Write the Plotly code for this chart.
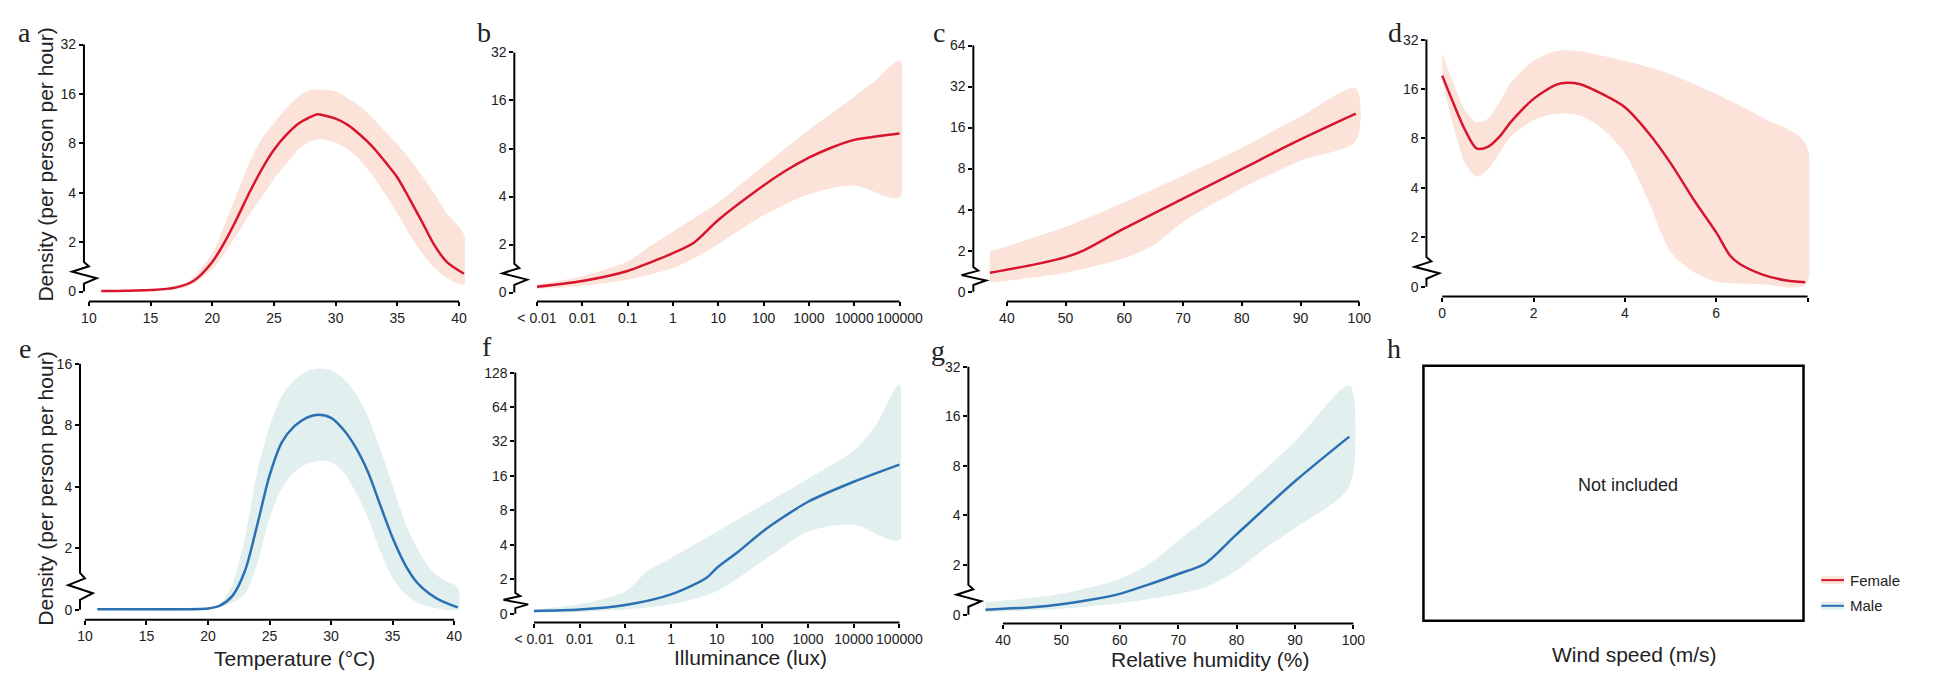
import numpy as np
import plotly.graph_objects as go

W, H = 1940, 673

# ---------------- data (density, per person per hour) ----------------
# a: Female - Temperature
a_fit_x = [11, 13, 15, 17, 18.5, 20, 21, 22, 23, 24, 25, 26, 27, 28, 28.5, 29, 30, 31, 32, 33, 34, 35, 36, 37, 38, 39, 40.4]
a_fit_y = [0.02, 0.03, 0.06, 0.16, 0.44, 1.2, 2.0, 2.79, 4.0, 5.54, 7.31, 9.0, 10.56, 11.63, 12.04, 11.88, 11.31, 10.34, 9.0, 7.62, 6.19, 4.96, 3.66, 2.66, 1.88, 1.2, 0.72]
a_up_x = [11, 15, 18, 20, 21, 22, 23, 24, 25, 26, 27, 28, 29, 30, 31, 32, 33, 34, 35, 36, 37, 38, 39, 40.4]
a_up_y = [0.04, 0.1, 0.4, 1.56, 2.55, 3.94, 6.1, 8.46, 10.63, 13.09, 15.45, 16.9, 17.0, 16.6, 15.03, 13.45, 11.39, 9.51, 7.89, 6.41, 5.1, 3.94, 2.99, 2.22]
a_lo_x = [11, 15, 18, 20, 21, 22, 23, 24, 25, 26, 27, 28, 29, 30, 31, 32, 33, 34, 35, 36, 37, 38, 39, 40.4]
a_lo_y = [0.0, 0.02, 0.2, 0.9, 1.56, 2.22, 2.93, 3.76, 4.86, 5.98, 7.36, 8.28, 8.46, 8.06, 7.36, 6.28, 5.1, 3.94, 2.99, 2.22, 1.56, 0.96, 0.56, 0.3]

# b: Female - Illuminance (lux; 0.001 stands for "< 0.01")
b_fit_x = [0.001, 0.01, 0.1, 0.3, 1, 3, 10, 100, 300, 1000, 3000, 10000, 30000, 100000]
b_fit_y = [0.24, 0.48, 0.9, 1.24, 1.64, 2.07, 2.85, 4.69, 5.78, 7.01, 8.06, 9.06, 9.5, 9.92]
b_up_x = [0.001, 0.01, 0.1, 0.3, 1, 10, 100, 1000, 10000, 30000, 100000]
b_up_y = [0.34, 0.68, 1.3, 1.92, 2.41, 3.68, 6.23, 10.48, 16.91, 21.4, 28.4]
b_lo_x = [0.001, 0.01, 0.1, 1, 3, 10, 100, 1000, 10000, 100000]
b_lo_y = [0.14, 0.28, 0.54, 1.02, 1.44, 2.01, 3.05, 4.14, 4.69, 3.97]

# c: Female - Relative humidity
c_fit_x = [37.1, 45, 50, 53, 60, 70, 80, 90, 99.4]
c_fit_y = [0.92, 1.34, 1.68, 2.0, 2.91, 4.82, 7.94, 13.09, 20.25]
c_up_x = [37.1, 50, 60, 70, 80, 90, 99.4]
c_up_y = [1.96, 2.99, 4.53, 7.11, 11.39, 19.3, 31.1]
c_lo_x = [37.1, 50, 60, 65, 70, 80, 90, 99.4]
c_lo_y = [0.44, 0.92, 1.64, 2.2, 3.25, 5.74, 9.13, 12.73]

# d: Female - Wind speed
d_fit_x = [0, 0.25, 0.5, 0.75, 1.0, 1.25, 1.5, 2.0, 2.5, 2.75, 3.0, 3.5, 4.0, 4.5, 5.0, 5.5, 6.0, 6.3, 6.5, 7.0, 7.5, 7.95]
d_fit_y = [19.3, 13.0, 9.0, 6.96, 7.11, 8.17, 10.06, 13.93, 17.03, 17.5, 17.15, 14.93, 12.38, 8.75, 5.66, 3.41, 2.14, 1.26, 0.94, 0.5, 0.26, 0.18]
d_up_x = [0, 0.25, 0.5, 0.75, 1.0, 1.25, 1.5, 2.0, 2.5, 3.0, 3.5, 4.0, 5.0, 6.0, 7.0, 7.95]
d_up_y = [26.5, 17.15, 11.88, 10.06, 10.56, 13.27, 17.5, 23.75, 27.3, 27.3, 25.5, 23.75, 19.7, 14.93, 10.78, 7.46]
d_lo_x = [0, 0.25, 0.5, 0.75, 1.0, 1.25, 1.5, 2.0, 2.5, 3.0, 3.5, 4.0, 4.5, 5.0, 5.5, 6.0, 7.0, 7.95]
d_lo_y = [18.0, 9.38, 5.66, 4.69, 5.17, 6.5, 8.17, 10.34, 11.31, 11.08, 9.19, 6.5, 3.41, 1.4, 0.6, 0.2, 0.1, 0.1]

# e: Male - Temperature
e_fit_x = [11, 15, 20, 21, 22, 23, 24, 25, 26, 27, 28, 29, 30, 31, 32, 33, 34, 35, 36, 37, 38, 39, 40.3]
e_fit_y = [0.02, 0.02, 0.04, 0.14, 0.46, 1.26, 2.6, 4.53, 6.59, 7.89, 8.69, 9.0, 8.69, 7.62, 6.23, 4.72, 3.25, 2.25, 1.48, 0.88, 0.52, 0.28, 0.08]
e_up_x = [11, 20, 21, 22, 23, 24, 25, 26, 27, 28, 29, 30, 31, 32, 33, 34, 35, 36, 37, 38, 39, 40.3]
e_up_y = [0.02, 0.08, 0.2, 0.84, 2.25, 4.72, 7.89, 11.08, 13.27, 14.62, 15.14, 14.82, 13.55, 11.47, 8.82, 6.1, 4.06, 2.69, 2.0, 1.36, 1.0, 0.72]
e_lo_x = [11, 20, 22, 23, 24, 25, 26, 27, 28, 29, 30, 31, 32, 33, 34, 35, 36, 37, 38, 40.3]
e_lo_y = [0.0, 0.01, 0.24, 0.52, 1.48, 2.81, 3.92, 4.72, 5.17, 5.35, 5.28, 4.72, 3.76, 2.81, 1.9, 1.04, 0.52, 0.24, 0.1, 0.02]

# f: Male - Illuminance
f_fit_x = [0.001, 0.01, 0.1, 1, 6, 10, 30, 100, 300, 1000, 10000, 100000]
f_fit_y = [0.16, 0.24, 0.5, 1.12, 2.06, 2.51, 3.5, 5.21, 7.06, 9.51, 14.22, 20.1]
f_up_x = [0.001, 0.01, 0.1, 0.3, 1, 10, 100, 1000, 10000, 30000, 100000]
f_up_y = [0.24, 0.54, 1.3, 2.35, 3.07, 5.21, 8.88, 15.14, 26.7, 44.0, 101.0]
f_lo_x = [0.001, 0.01, 0.1, 1, 10, 100, 1000, 10000, 100000]
f_lo_y = [0.06, 0.1, 0.24, 0.54, 1.3, 2.87, 5.21, 5.98, 4.41]

# g: Male - Relative humidity
g_fit_x = [37, 45, 50, 55, 60, 65, 70, 74.5, 80, 90, 99.3]
g_fit_y = [0.2, 0.3, 0.42, 0.6, 0.84, 1.22, 1.64, 2.03, 3.07, 6.45, 12.04]
g_up_x = [37, 50, 60, 65, 70, 80, 90, 99.3]
g_up_y = [0.5, 0.84, 1.44, 2.03, 2.81, 5.35, 11.24, 24.6]
g_lo_x = [37, 50, 60, 70, 75, 80, 85, 90, 99.3]
g_lo_y = [0.1, 0.24, 0.46, 0.84, 1.14, 1.78, 2.55, 3.36, 6.02]

# tick labels
temp_ticks = [10, 15, 20, 25, 30, 35, 40]
lux_ticks = [0.001, 0.01, 0.1, 1, 10, 100, 1000, 10000, 100000]
lux_labels = ["< 0.01", "0.01", "0.1", "1", "10", "100", "1000", "10000", "100000"]
rh_ticks = [40, 50, 60, 70, 80, 90, 100]
wind_ticks = [0, 2, 4, 6, 8]
wind_labels = ["0", "2", "4", "6", ""]
density_labels = ["0", "2", "4", "8", "16", "32", "64", "128"]

RED, PINK = "#d8152e", "#fbe3da"
BLUE, TEAL = "#2a70b3", "#e1efee"


def tr(v):
    """Broken axis: 0-2 linear below the break, log2 above."""
    v = np.asarray(v, float)
    return np.where(v < 2, v / 2.0, np.log2(np.maximum(v, 1e-9)))


panels = [
    dict(L="a", fit=(a_fit_x, a_fit_y), up=(a_up_x, a_up_y), lo=(a_lo_x, a_lo_y), col=RED, band=PINK,
         px=(82, 468, 37, 297), xr=(9.6, 40.48), yr=(-0.2, 5), xlog=False, xt=temp_ticks, xl=None,
         lab=(22, 25)),
    dict(L="b", fit=(b_fit_x, b_fit_y), up=(b_up_x, b_up_y), lo=(b_lo_x, b_lo_y), col=RED, band=PINK,
         px=(518, 911, 45, 297), xr=(-3.50, 5.06), yr=(-0.185, 5), xlog=True, xt=lux_ticks, xl=lux_labels,
         lab=(487, 25)),
    dict(L="c", fit=(c_fit_x, c_fit_y), up=(c_up_x, c_up_y), lo=(c_lo_x, c_lo_y), col=RED, band=PINK,
         px=(983, 1376, 38, 297), xr=(34.29, 100.34), yr=(-0.24, 6), xlog=False, xt=rh_ticks, xl=None,
         lab=(948, 25)),
    dict(L="d", fit=(d_fit_x, d_fit_y), up=(d_up_x, d_up_y), lo=(d_lo_x, d_lo_y), col=RED, band=PINK,
         px=(1442, 1830, 32, 292), xr=(-0.346, 8.04), yr=(-0.2, 5), xlog=False, xt=wind_ticks, xl=wind_labels,
         lab=(1410, 25)),
    dict(L="e", fit=(e_fit_x, e_fit_y), up=(e_up_x, e_up_y), lo=(e_lo_x, e_lo_y), col=BLUE, band=TEAL,
         px=(78, 463, 360, 619), xr=(9.6, 40.48), yr=(-0.16, 4), xlog=False, xt=temp_ticks, xl=None,
         lab=(22, 345)),
    dict(L="f", fit=(f_fit_x, f_fit_y), up=(f_up_x, f_up_y), lo=(f_lo_x, f_lo_y), col=BLUE, band=TEAL,
         px=(519, 910, 369, 622), xr=(-3.41, 5.04), yr=(-0.26, 7), xlog=True, xt=lux_ticks, xl=lux_labels,
         lab=(490, 343)),
    dict(L="g", fit=(g_fit_x, g_fit_y), up=(g_up_x, g_up_y), lo=(g_lo_x, g_lo_y), col=BLUE, band=TEAL,
         px=(978, 1370, 363, 623), xr=(34.08, 100.34), yr=(-0.18, 5), xlog=False, xt=rh_ticks, xl=None,
         lab=(947, 347)),
]

TICKFONT = dict(family="Liberation Sans, Arial, sans-serif", size=14, color="#222")
fig = go.Figure()
shapes = []
annotations = []


def PX(x):
    return x / W


def PY(y):
    return 1 - y / H


for i, p in enumerate(panels):
    n = "" if i == 0 else str(i + 1)
    xa, ya = "x" + n, "y" + n
    L, R, T, B = p["px"]
    ux, uy = p["up"]
    lx, ly = p["lo"]
    fig.add_trace(go.Scatter(
        x=list(ux) + list(lx)[::-1], y=list(tr(uy)) + list(tr(ly)[::-1]),
        fill="toself", fillcolor=p["band"], mode="lines", line=dict(width=0, shape="spline", smoothing=0.8),
        hoverinfo="skip", xaxis=xa, yaxis=ya, showlegend=False))
    fx, fy = p["fit"]
    fig.add_trace(go.Scatter(
        x=fx, y=tr(fy), mode="lines", line=dict(color=p["col"], width=2.5, shape="spline", smoothing=0.8),
        xaxis=xa, yaxis=ya, showlegend=False))

    ntop = int(p["yr"][1])
    yt = list(range(ntop + 1))
    fig.layout["xaxis" + n] = dict(
        domain=[PX(L), PX(R)], range=list(p["xr"]), type="log" if p["xlog"] else "linear",
        tickvals=p["xt"], ticktext=p["xl"] if p["xl"] else [str(v) for v in p["xt"]],
        ticks="outside", ticklen=4, tickwidth=2, tickcolor="black", showline=False,
        showgrid=False, zeroline=False, tickfont=TICKFONT, anchor=ya, fixedrange=True)
    fig.layout["yaxis" + n] = dict(
        domain=[PY(B), PY(T)], range=list(p["yr"]), tickvals=yt, ticktext=density_labels[:ntop + 1],
        ticks="outside", ticklen=4, tickwidth=2, tickcolor="black", showline=False,
        showgrid=False, zeroline=False, tickfont=TICKFONT, anchor=xa, fixedrange=True)

    y0, y1 = p["yr"]

    def ty(t, B=B, T=T, y0=y0, y1=y1):
        return B - (t - y0) / (y1 - y0) * (B - T)

    x0, x1 = p["xr"]

    def tx(v, L=L, R=R, x0=x0, x1=x1, lg=p["xlog"]):
        vv = np.log10(v) if lg else v
        return L + (vv - x0) / (x1 - x0) * (R - L)

    # y axis line with break
    bt, bb = ty(0.6), ty(0.16)
    hgt = bb - bt
    pts = [(0, 0), (5, 0.2), (-12, 0.45), (13, 0.75), (0, 1.0)]
    path = "M %.5f,%.5f L %.5f,%.5f" % (PX(L), PY(ty(ntop)), PX(L), PY(bt))
    for dx, fr in pts[1:]:
        path += " L %.5f,%.5f" % (PX(L + dx), PY(bt + fr * hgt))
    path += " L %.5f,%.5f" % (PX(L), PY(ty(0)))
    shapes.append(dict(type="path", xref="paper", yref="paper", path=path,
                       line=dict(color="black", width=2)))
    # x axis line
    shapes.append(dict(type="line", xref="paper", yref="paper",
                       x0=PX(tx(p["xt"][0])), x1=PX(tx(p["xt"][-1])), y0=PY(B), y1=PY(B),
                       line=dict(color="black", width=2)))
    annotations.append(dict(text=p["L"], x=PX(p["lab"][0]), y=PY(p["lab"][1]), xref="paper", yref="paper",
                            showarrow=False, xanchor="center", yanchor="middle",
                            font=dict(family="Liberation Serif, Times New Roman, serif", size=28, color="#222")))

# panel h
shapes.append(dict(type="rect", xref="paper", yref="paper", x0=PX(1439), x1=PX(1824), y0=PY(620), y1=PY(362),
                   line=dict(color="black", width=2.5)))
annotations.append(dict(text="h", x=PX(1409), y=PY(345), xref="paper", yref="paper", showarrow=False,
                        xanchor="center", yanchor="middle",
                        font=dict(family="Liberation Serif, Times New Roman, serif", size=28, color="#222")))
annotations.append(dict(text="Not included", x=PX(1646), y=PY(483), xref="paper", yref="paper", showarrow=False,
                        xanchor="center", yanchor="middle",
                        font=dict(family="Liberation Sans, Arial, sans-serif", size=18, color="#222")))

# axis titles
TF = dict(family="Liberation Sans, Arial, sans-serif", size=21, color="#222")
for txt, (x, y) in [("Temperature (°C)", (295, 658)), ("Illuminance (lux)", (757, 657)),
                    ("Relative humidity (%)", (1223, 659)), ("Wind speed (m/s)", (1653, 654))]:
    annotations.append(dict(text=txt, x=PX(x), y=PY(y), xref="paper", yref="paper", showarrow=False,
                            xanchor="center", yanchor="middle", font=TF))
for y in (158, 486):
    annotations.append(dict(text="Density (per person per hour)", x=PX(43), y=PY(y), xref="paper", yref="paper",
                            showarrow=False, textangle=-90, xanchor="center", yanchor="middle",
                            font=dict(family="Liberation Sans, Arial, sans-serif", size=21, color="#222")))

# legend
for name, col, band, y in [("Female", RED, PINK, 579), ("Male", BLUE, TEAL, 605)]:
    shapes.append(dict(type="rect", xref="paper", yref="paper", x0=PX(1842), x1=PX(1865), y0=PY(y + 4),
                       y1=PY(y - 4), fillcolor=band, line=dict(width=0)))
    shapes.append(dict(type="line", xref="paper", yref="paper", x0=PX(1842), x1=PX(1865), y0=PY(y), y1=PY(y),
                       line=dict(color=col, width=2)))
    annotations.append(dict(text=name, x=PX(1869), y=PY(y), xref="paper", yref="paper", showarrow=False,
                            xanchor="left", yanchor="middle",
                            font=dict(family="Liberation Sans, Arial, sans-serif", size=15, color="#222")))

fig.update_layout(width=W, height=H, margin=dict(l=0, r=0, t=0, b=0), paper_bgcolor="white",
                  plot_bgcolor="white", showlegend=False, shapes=shapes, annotations=annotations)
fig.write_html("out.html")
